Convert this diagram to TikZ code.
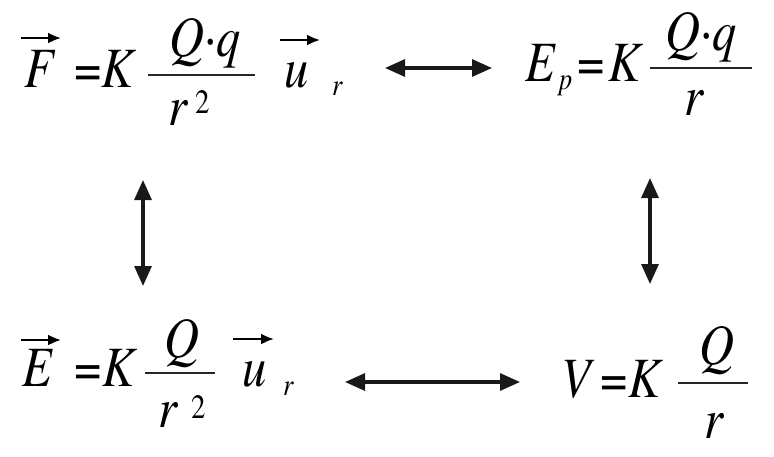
\documentclass[tikz,border=0pt]{standalone}
\usepackage{fontspec}
\setmainfont{TeX Gyre Termes}
\usetikzlibrary{arrows.meta}
\newcommand{\sx}[1]{\scalebox{0.85}[1]{#1}}
\begin{document}
\begin{tikzpicture}[x=1pt,y=-1pt,
  txt/.style={anchor=base west,inner sep=0pt,font=\fontsize{57}{60}\selectfont\itshape},
  txtc/.style={txt,anchor=base},
  up/.style={anchor=base west,inner sep=0pt,font=\fontsize{57}{60}\selectfont},
  small/.style={anchor=base west,inner sep=0pt,font=\fontsize{31}{33}\selectfont\itshape},
  smallup/.style={anchor=base west,inner sep=0pt,font=\fontsize{34}{36}\selectfont},
  bar/.style={line width=2.5pt,black!85},
  vecarrow/.style={line width=2.2pt,-{Latex[length=13pt,width=11pt]}},
  biarrow/.style={{Triangle[length=20pt,width=17pt]}-{Triangle[length=20pt,width=17pt]},line width=3.2pt,black!90}]
\useasboundingbox (0,0) rectangle (774,456);
% ---------- top left: force ----------
\node[txt] (F) at (24,87) {\sx{F}};
\coordinate (Fa1) at (21,38); \coordinate (Fa2) at (61,38);
\draw[vecarrow] (Fa1) -- (Fa2);
\node[up] (Feq) at (74,87) {\sx{=}};
\node[txt] (FK) at (101,87) {\sx{K}};
\coordinate (Fb1) at (148,75); \coordinate (Fb2) at (255,75);
\draw[bar] (Fb1) -- (Fb2);
\node[txtc] (Fnum) at (205,56) {\sx{Q·q}};
\node[txt] (Fden) at (168,125) {\sx{r}};
\node[smallup] (Fsq) at (195,113) {\sx{2}};
\coordinate (Fu1) at (280,40); \coordinate (Fu2) at (320,40);
\draw[vecarrow] (Fu1) -- (Fu2);
\node[txt] (Fu) at (284,87) {\sx{u}};
\node[small] (Fr) at (332,95) {\sx{r}};
% ---------- top right: potential energy ----------
\node[txt] (Ep) at (525,81) {\sx{E}};
\node[small] (Epp) at (559,89) {\sx{p}};
\node[up] (Epeq) at (577,81) {\sx{=}};
\node[txt] (EpK) at (608,81) {\sx{K}};
\coordinate (Epb1) at (650,68); \coordinate (Epb2) at (752,68);
\draw[bar] (Epb1) -- (Epb2);
\node[txtc] (Epnum) at (701,50) {\sx{Q·q}};
\node[txtc] (Epden) at (694,115) {\sx{r}};
% ---------- bottom left: field ----------
\node[txt] (E) at (22,386) {\sx{E}};
\coordinate (Ea1) at (21,340); \coordinate (Ea2) at (61,340);
\draw[vecarrow] (Ea1) -- (Ea2);
\node[up] (Eeq) at (74,386) {\sx{=}};
\node[txt] (EK) at (102,386) {\sx{K}};
\coordinate (Eb1) at (145,373); \coordinate (Eb2) at (215,373);
\draw[bar] (Eb1) -- (Eb2);
\node[txtc] (Enum) at (182,357) {\sx{Q}};
\node[txt] (Eden) at (158,427) {\sx{r}};
\node[smallup] (Esq) at (191,418) {\sx{2}};
\coordinate (Eu1) at (233,339); \coordinate (Eu2) at (274,339);
\draw[vecarrow] (Eu1) -- (Eu2);
\node[txt] (Eu) at (242,386) {\sx{u}};
\node[small] (Er) at (283,395) {\sx{r}};
% ---------- bottom right: potential ----------
\node[txt] (V) at (561,397) {\sx{V}};
\node[up] (Veq) at (600,397) {\sx{=}};
\node[txt] (VK) at (628,397) {\sx{K}};
\coordinate (Vb1) at (678,383); \coordinate (Vb2) at (748,383);
\draw[bar] (Vb1) -- (Vb2);
\node[txtc] (Vnum) at (717,364) {\sx{Q}};
\node[txtc] (Vden) at (714,438) {\sx{r}};
% ---------- connectors ----------
\coordinate (t1) at (385,68);
\coordinate (t2) at (492,68);
\coordinate (b1) at (345,382);
\coordinate (b2) at (520,382);
\coordinate (l1) at (143,180);
\coordinate (l2) at (143,286);
\coordinate (r1) at (650,178);
\coordinate (r2) at (650,284);
\draw[biarrow] (t1) -- (t2);
\draw[biarrow] (b1) -- (b2);
\draw[biarrow] (l1) -- (l2);
\draw[biarrow] (r1) -- (r2);
\end{tikzpicture}
\end{document}
